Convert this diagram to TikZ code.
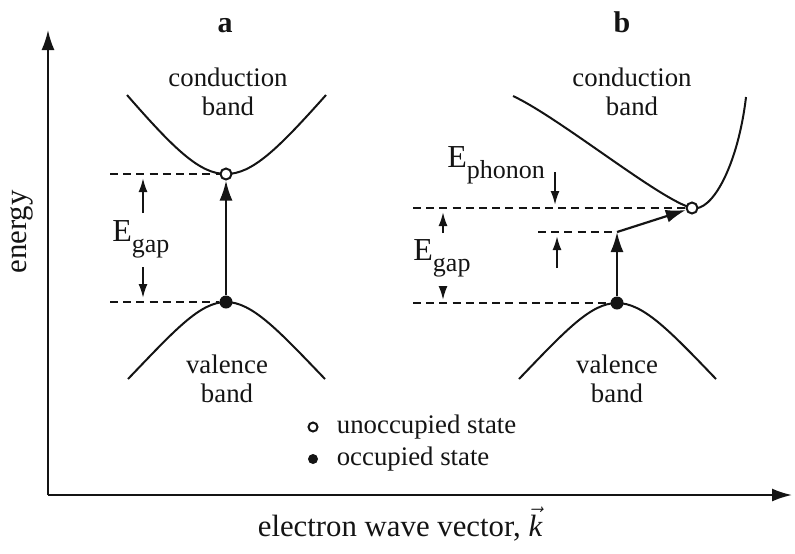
\documentclass[tikz,border=0pt]{standalone}
\usepackage{fontspec}
\setmainfont{Liberation Serif}
\usetikzlibrary{arrows.meta,calc,positioning}
\definecolor{ink}{HTML}{141414}
\newcommand{\Elevel}[1]{{\fontsize{16}{16}\selectfont E}\raisebox{-5.5pt}{\fontsize{13}{13}\selectfont #1}}

\begin{document}
\begin{tikzpicture}[
    x=0.5pt, y=-0.5pt,
    font=\fontsize{13.4}{14.5}\selectfont,
    band/.style={draw=ink, line width=1pt},
    level/.style={draw=ink, line width=1pt, dash pattern=on 4pt off 2.6pt},
    axis/.style={-{Latex[length=10pt,width=6.5pt]}, draw=ink, line width=1pt},
    jump/.style={-{Latex[length=10pt,width=6.5pt]}, draw=ink, line width=1.1pt},
    tick/.style={-{Latex[length=7pt,width=4.5pt]}, draw=ink, line width=1pt},
    hole/.style={circle, draw=ink, fill=white, line width=1pt, minimum size=5.5pt, inner sep=0pt},
    electron/.style={circle, fill=ink, minimum size=6.5pt, inner sep=0pt},
    bandlabel/.style={align=center, inner sep=0pt, text=ink},
    gaplabel/.style={inner sep=0pt, text=ink, anchor=base west},
    panel/.style={font=\fontsize{15}{15}\selectfont\bfseries, text=ink, inner sep=0pt, anchor=base},
    axislabel/.style={font=\fontsize{15.4}{16}\selectfont, text=ink, inner sep=0pt}
]
\useasboundingbox (0,0) rectangle (795,553);

% Axes.
\coordinate (origin) at (48,495);
\coordinate (yTip) at (48,30);
\coordinate (xTip) at (792,495);
\draw[axis] (origin) -- (yTip);
\draw[axis] (origin) -- (xTip);
\node[axislabel, rotate=90] (energyLabel) at (22,232) {energy};
\node[axislabel, anchor=base] (kLabel) at (400,536) {electron wave vector, $\vec{\mbox{\itshape k}}$};

\node[panel] (panelA) at (225,32) {a};
\node[panel] (panelB) at (622,32) {b};

% Panel a: direct gap.
\coordinate (cminA) at (226,174);
\coordinate (vmaxA) at (226,302);
\draw[band] (127,95) .. controls (175,150) and (200,174) .. (cminA) .. controls (252,174) and (277,150) .. (326,95);
\draw[band] (128,379) .. controls (175,330) and (200,302) .. (vmaxA) .. controls (252,302) and (278,330) .. (325,379);
\node[bandlabel] (condA) at (228,92) {conduction\\band};
\node[bandlabel] (valA) at (227,379) {valence\\band};

\coordinate (topEndA) at (110,174);
\coordinate (botEndA) at (110,302);
\node[hole] (holeA) at (cminA) {};
\node[electron] (elecA) at (vmaxA) {};
\draw[level] (topEndA) -- (holeA);
\draw[level] (botEndA) -- (elecA);
\draw[jump] (elecA) -- (holeA);

\node[gaplabel] (gapA) at (112,241) {\Elevel{gap}};
\coordinate (gapUpA) at (143,178);
\coordinate (gapDownA) at (143,298);
\draw[tick] ($(gapUpA)+(0,35)$) -- (gapUpA);
\draw[tick] ($(gapDownA)+(0,-31)$) -- (gapDownA);

% Panel b: indirect gap with phonon step.
\coordinate (cminB) at (692,208);
\coordinate (vmaxB) at (617,303);
\draw[band] (513,96) .. controls (560,118) and (660,200) .. (cminB) .. controls (712,213) and (738,165) .. (746,97);
\draw[band] (519,379) .. controls (566,330) and (591,303) .. (vmaxB) .. controls (643,303) and (669,330) .. (716,379);
\node[bandlabel] (condB) at (632,92) {conduction\\band};
\node[bandlabel] (valB) at (617,379) {valence\\band};

\coordinate (kinkB) at (617,232);
\coordinate (topEndB) at (413,208);
\coordinate (midEndB) at (538,232);
\coordinate (botEndB) at (413,303);
\node[hole] (holeB) at (cminB) {};
\node[electron] (elecB) at (vmaxB) {};
\draw[level] (topEndB) -- (holeB);
\draw[level] (midEndB) -- (kinkB);
\draw[level] (botEndB) -- (elecB);
\draw[jump] (elecB) -- (kinkB);
\draw[jump] (kinkB) -- (holeB);

\node[gaplabel] (phononB) at (447,167) {\Elevel{phonon}};
\node[gaplabel] (gapB) at (413,260) {\Elevel{gap}};
\coordinate (phDownB) at (555,205);
\coordinate (phUpB) at (557,236);
\coordinate (gapUpB) at (443,212);
\coordinate (gapDownB) at (443,300);
\draw[tick] ($(phDownB)+(0,-33)$) -- (phDownB);
\draw[tick] ($(phUpB)+(0,32)$) -- (phUpB);
\draw[tick] ($(gapUpB)+(0,21)$) -- (gapUpB);
\draw[tick] ($(gapDownB)+(0,-14)$) -- (gapDownB);

% Key.
\node[hole, minimum size=4.5pt] (keyHole) at (313,427) {};
\node[electron, minimum size=5pt] (keyElec) at (313,459) {};
\node[right=9pt of keyHole, inner sep=0pt, text=ink] (keyHoleText) {unoccupied state};
\node[right=9pt of keyElec, inner sep=0pt, text=ink] (keyElecText) {occupied state};

\end{tikzpicture}
\end{document}
